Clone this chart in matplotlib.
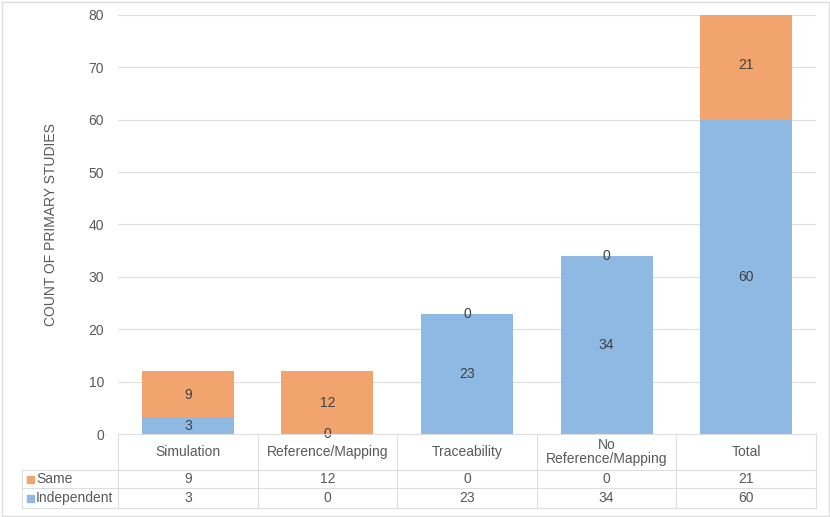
import matplotlib.pyplot as plt
import numpy as np
from matplotlib.patches import Rectangle

plt.rcParams['font.family'] = ['Liberation Sans', 'DejaVu Sans']

categories = ["Simulation", "Reference/Mapping", "Traceability", "No\nReference/Mapping", "Total"]
independent = [3, 0, 23, 34, 60]
same = [9, 12, 0, 0, 21]
series_names = ["Same", "Independent"]

col_same = '#F2A46E'
col_ind = '#8DB9E2'
grid_col = '#DEDEDE'
txt_col = '#595959'
lbl_col = '#404040'
fs = 10

W, H = 830, 517
fig = plt.figure(figsize=(W / 100, H / 100), dpi=100)

# plot area in pixel terms
L, R, T, B = 118, 816, 15, 434
ax = fig.add_axes([L / W, 1 - B / H, (R - L) / W, (B - T) / H])
x = np.arange(len(categories))
ax.bar(x, independent, width=0.66, color=col_ind, zorder=2)
ax.bar(x, same, width=0.66, bottom=independent, color=col_same, zorder=2)

for i in range(len(x)):
    ax.text(x[i], independent[i] / 2, str(independent[i]), ha='center', va='center',
            fontsize=fs, color=lbl_col, zorder=3)
    ax.text(x[i], independent[i] + same[i] / 2, str(same[i]), ha='center', va='center',
            fontsize=fs, color=lbl_col, zorder=3)

ax.set_xlim(-0.5, len(categories) - 0.5)
ax.set_ylim(0, 80)
ax.set_yticks(np.arange(0, 81, 10))
ax.set_xticks([])
ax.yaxis.grid(True, color=grid_col, linewidth=0.8, zorder=0)
for s in ax.spines.values():
    s.set_visible(False)
ax.tick_params(axis='y', length=0, labelsize=fs, labelcolor=txt_col, pad=10)
ax.set_ylabel("COUNT OF PRIMARY STUDIES", fontsize=fs, color=txt_col, labelpad=22)

# data table below the plot
TL, TB = 22, 508
unit = (R - L) / len(categories)
tax = fig.add_axes([TL / W, 1 - TB / H, (R - TL) / W, (TB - B) / H])
tax.set_xlim(-0.5 - (L - TL) / unit, len(categories) - 0.5)
tax.set_ylim(TB - B, 0)
tax.axis('off')

r1, r2, r3 = 36, 54, 74
lw = 0.8
edges = np.arange(len(categories) + 1) - 0.5
x0 = -0.5 - (L - TL) / unit
for e in edges:
    tax.plot([e, e], [0, r3], color=grid_col, lw=lw, clip_on=False)
tax.plot([x0, x0], [r1, r3], color=grid_col, lw=lw, clip_on=False)
for yy in (r1, r2, r3):
    tax.plot([x0, edges[-1]], [yy, yy], color=grid_col, lw=lw, clip_on=False)
tax.plot([edges[0], edges[-1]], [0, 0], color=grid_col, lw=lw, clip_on=False)

for i, c in enumerate(categories):
    tax.text(x[i], r1 / 2, c, ha='center', va='center', fontsize=fs, color=txt_col,
             linespacing=1.0)
    tax.text(x[i], (r1 + r2) / 2, str(same[i]), ha='center', va='center', fontsize=fs, color=txt_col)
    tax.text(x[i], (r2 + r3) / 2, str(independent[i]), ha='center', va='center', fontsize=fs, color=txt_col)

sq = 7 / unit
for yy, name, col in (((r1 + r2) / 2, series_names[0], col_same), ((r2 + r3) / 2, series_names[1], col_ind)):
    tax.add_patch(Rectangle((x0 + 5 / unit, yy - 3.5), sq, 7, color=col, clip_on=False))
    tax.text(x0 + 14 / unit, yy, name, ha='left', va='center', fontsize=fs, color=txt_col)

# outer frame
fig.patches.append(Rectangle((1.5 / W, 1.5 / H), 1 - 3 / W, 1 - 3 / H, transform=fig.transFigure,
                             fill=False, edgecolor=grid_col, lw=1))

fig.savefig('out.png', dpi=100)
